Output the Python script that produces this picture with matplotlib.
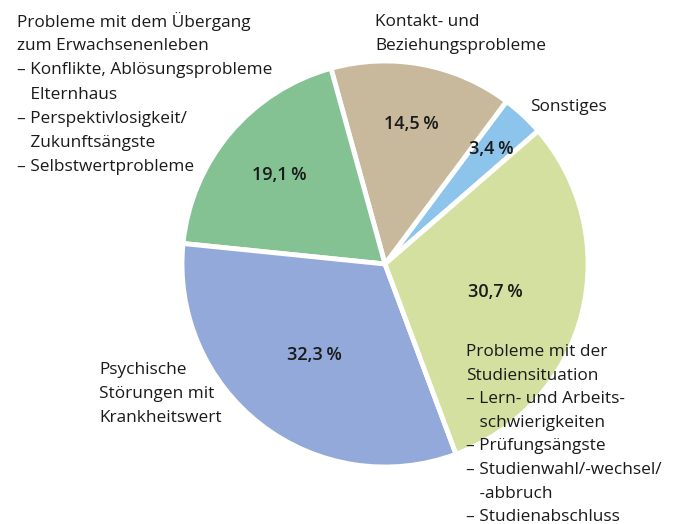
import matplotlib
matplotlib.use("Agg")
import matplotlib.pyplot as plt
import numpy as np

W, H = 678, 524

categories = ["Sonstiges", "Kontakt- und Beziehungsprobleme",
              "Probleme mit dem Übergang zum Erwachsenenleben",
              "Psychische Störungen mit Krankheitswert",
              "Probleme mit der Studiensituation"]
values = [3.4, 14.5, 19.1, 32.3, 30.7]
pct_labels = ["3,4\u2009%", "14,5\u2009%", "19,1\u2009%", "32,3\u2009%", "30,7\u2009%"]
colors = ["#8DC4EB", "#C9B99C", "#84C294", "#92A9D9", "#D3E0A0"]

label_uebergang = ["Probleme mit dem Übergang", "zum Erwachsenenleben",
                   "– Konflikte, Ablösungsprobleme", "   Elternhaus",
                   "– Perspektivlosigkeit/", "   Zukunftsängste",
                   "– Selbstwertprobleme"]
label_kontakt = ["Kontakt- und", "Beziehungsprobleme"]
label_sonst = ["Sonstiges"]
label_psych = ["Psychische", "Störungen mit", "Krankheitswert"]
label_studium = ["Probleme mit der", "Studiensituation",
                 "– Lern- und Arbeits-", "   schwierigkeiten",
                 "– Prüfungsängste", "– Studienwahl/-wechsel/",
                 "   -abbruch", "– Studienabschluss"]

FONT = ["Open Sans", "DejaVu Sans"]

fig = plt.figure(figsize=(W/100, H/100), dpi=100)
ax = fig.add_axes([0, 0, 1, 1])

cx, cy, R = 385, H - 264, 203
start = 41
wedges, _ = ax.pie(values, colors=colors, startangle=start, counterclock=True,
                   center=(cx, cy), radius=R, explode=[0.035, 0.02, 0.02, 0.02, 0.02],
                   wedgeprops=dict(edgecolor="white", linewidth=3.5),
                   frame=True)
ax.set_xlim(0, W)
ax.set_ylim(0, H)
ax.set_aspect("equal")
ax.axis("off")

pct_r = [0.77, 0.70, 0.68, 0.565, 0.56]
ang = start
for v, lab, rr in zip(values, pct_labels, pct_r):
    span = v * 3.6
    mid = np.deg2rad(ang + span / 2)
    ang += span
    ax.text(cx + rr * R * np.cos(mid), cy + rr * R * np.sin(mid), lab,
            ha="center", va="center", fontsize=13, fontweight="semibold",
            family=FONT, color="#1a1a1a")

def block(lines, x, y0, step=24.2):
    for i, ln in enumerate(lines):
        ax.text(x, H - (y0 + i * step), ln, ha="left", va="center",
                fontsize=12.4, family=FONT, color="#1a1a1a")

block(label_uebergang, 17, 22)
block(label_kontakt, 375, 22)
block(label_sonst, 530, 107)
block(label_psych, 99, 370)
block(label_studium, 466, 352, 23.6)

fig.savefig("out.png", dpi=100)
